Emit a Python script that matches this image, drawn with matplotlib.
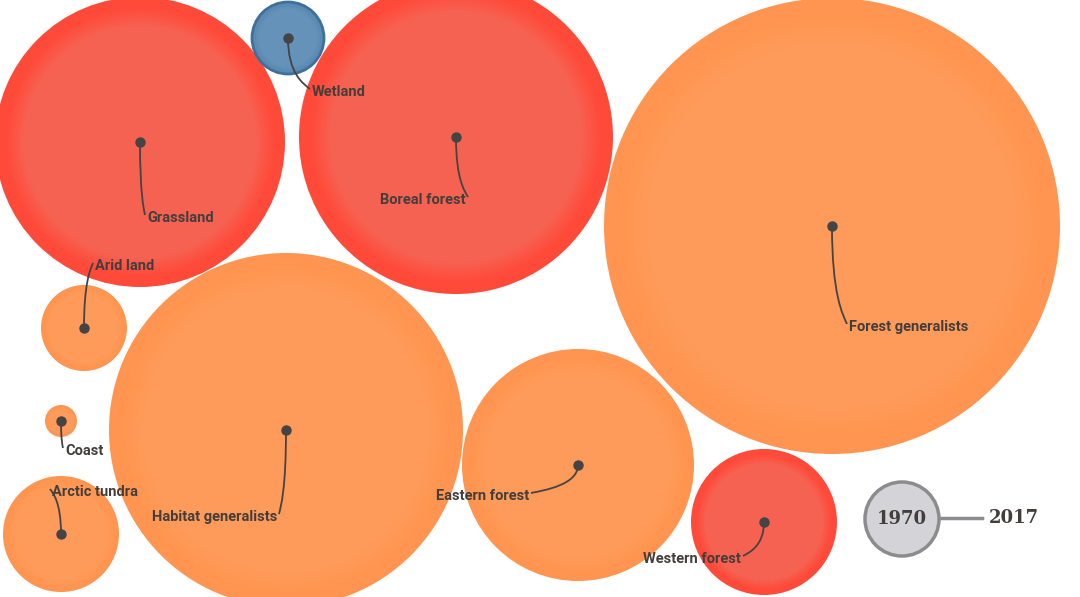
import matplotlib
matplotlib.use("Agg")
import matplotlib.pyplot as plt
from matplotlib.patches import Circle, PathPatch
from matplotlib.path import Path
from matplotlib.colors import to_rgb

# bubbles, in pixel space of the original graphic (y grows downwards)
names = ["Grassland", "Wetland", "Boreal forest", "Forest generalists", "Arid land",
         "Coast", "Arctic tundra", "Habitat generalists", "Eastern forest", "Western forest"]
cx = [140, 288, 456, 832, 84, 61, 61, 286, 578, 764]
cy = [142, 38, 137, 226, 328, 421, 534, 430, 465, 522]
radius = [145, 36, 157, 228, 43, 16, 58, 177, 116, 73]
status = ["decline", "increase", "decline", "moderate", "moderate",
          "moderate", "moderate", "moderate", "moderate", "decline"]

# label anchors
label_x = [147, 312, 466, 849, 95, 65, 52, 277, 529, 741]
label_y = [218, 92, 200, 327, 266, 451, 492, 517, 496, 559]
label_ha = ["left", "left", "right", "left", "left", "left", "left", "right", "right", "right"]

legend_start = "1970"
legend_end = "2017"

outer_col = {"decline": "#ff4a3a", "moderate": "#ff9550", "increase": "#5a8ab2"}
inner_col = {"decline": "#f66252", "moderate": "#fe9b5a", "increase": "#6592b8"}
edge_col = {"decline": "#ff4a3a", "moderate": "#ff9550", "increase": "#3f6f9b"}

text_col = "#423e3c"
line_col = "#444444"


def leader(ax, x0, y0, x1, y1):
    dy = y1 - y0
    verts = [(x0, y0), (x0, y0 + 0.7 * dy), (x1 - 0.3 * (x1 - x0), y1 - 0.1 * dy), (x1, y1)]
    codes = [Path.MOVETO, Path.CURVE4, Path.CURVE4, Path.CURVE4]
    ax.add_patch(PathPatch(Path(verts, codes), fill=False, edgecolor=line_col, lw=1.3, zorder=5))


def bubble(ax, x, y, r, s):
    ax.add_patch(Circle((x, y), r, facecolor=outer_col[s], edgecolor=edge_col[s],
                        lw=2 if s == "increase" else 0, zorder=2))
    c0 = to_rgb(outer_col[s])
    c1 = to_rgb(inner_col[s])
    steps = 14
    for k in range(steps + 1):
        t = k / steps
        f = 0.93 - 0.13 * t
        col = tuple(c0[j] + (c1[j] - c0[j]) * t for j in range(3))
        ax.add_patch(Circle((x, y), r * f, facecolor=col, edgecolor="none", zorder=3))


fig = plt.figure(figsize=(10.8, 5.97), dpi=100)
ax = fig.add_axes([0, 0, 1, 1])
ax.set_xlim(0, 1080)
ax.set_ylim(597, 0)
ax.set_aspect("equal")
ax.axis("off")

for i in range(len(names)):
    bubble(ax, cx[i], cy[i], radius[i], status[i])
    ax.plot(cx[i], cy[i], "o", color=line_col, ms=6.5, zorder=6)

    if label_ha[i] == "left":
        ex = label_x[i] - 2
    else:
        ex = label_x[i] + 2
    leader(ax, cx[i], cy[i], ex, label_y[i] - 3)
    ax.text(label_x[i], label_y[i], names[i], ha=label_ha[i], va="center",
            fontsize=10.5, fontweight="bold", family="Roboto", color=text_col, zorder=7)

# legend
ax.add_patch(Circle((902, 519), 37, facecolor="#d4d3d7", edgecolor="#8c8b8d", lw=2.5, zorder=2))
ax.plot([939, 982], [518, 518], color="#8c8b8d", lw=2.5, zorder=1)
ax.text(902, 519, legend_start, ha="center", va="center", fontsize=13,
        fontweight="bold", family="DejaVu Serif", color=text_col, zorder=3)
ax.text(989, 518, legend_end, ha="left", va="center", fontsize=13,
        fontweight="bold", family="DejaVu Serif", color=text_col, zorder=3)

fig.savefig("out.png", dpi=100)
